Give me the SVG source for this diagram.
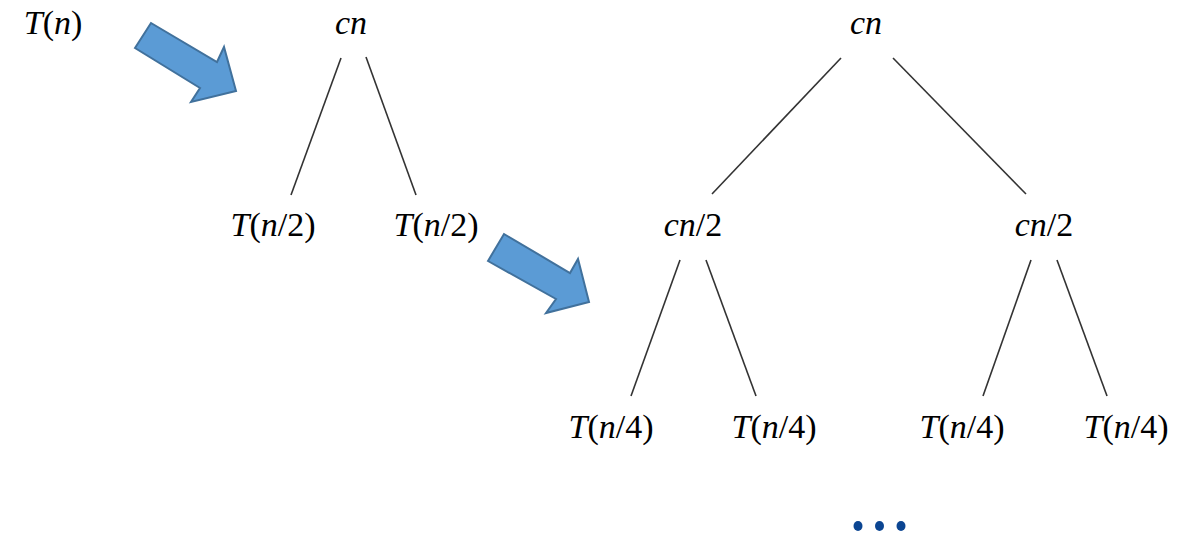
<svg xmlns="http://www.w3.org/2000/svg" width="1185" height="537" viewBox="0 0 1185 537">
<style>
.t{font-size:34px;fill:#000;text-anchor:middle}
.i{font-style:italic}
.e{stroke:#333;stroke-width:1.6;fill:none}
.a{fill:#5B9BD5;stroke:#41719C;stroke-width:2;stroke-linejoin:miter}
.d{fill:#0B4592}
</style>
<rect width="1185" height="537" fill="#fff"/>
<g id="connectors">
<line class="e" x1="341" y1="58" x2="291" y2="195"/>
<line class="e" x1="366" y1="57" x2="416" y2="195"/>
<line class="e" x1="841" y1="58" x2="712" y2="194"/>
<line class="e" x1="893" y1="58" x2="1026" y2="194"/>
<line class="e" x1="680" y1="260" x2="631" y2="396"/>
<line class="e" x1="706" y1="260" x2="756" y2="396"/>
<line class="e" x1="1031" y1="260" x2="983" y2="396"/>
<line class="e" x1="1057" y1="260" x2="1107" y2="396"/>
</g>
<g id="arrow1"><polygon class="a" points="135,48 151,23 217,62 224,47 236,91 191,102 200,88"/></g>
<g id="arrow2"><polygon class="a" points="488,261 504,234 570,273 578,259 589,302 546,313 556,299"/></g>
<g id="labels" font-family="Liberation Serif, serif">
<g id="Tn"><text class="t" x="53" y="34"><tspan class="i">T</tspan>(<tspan class="i">n</tspan>)</text></g>
<g id="cn1"><text class="t i" x="351" y="34">cn</text></g>
<g id="Tn2a"><text class="t" x="273" y="236"><tspan class="i">T</tspan>(<tspan class="i">n</tspan>/2)</text></g>
<g id="Tn2b"><text class="t" x="436" y="236"><tspan class="i">T</tspan>(<tspan class="i">n</tspan>/2)</text></g>
<g id="cn2"><text class="t i" x="866" y="34">cn</text></g>
<g id="cn2a"><text class="t" x="693" y="236"><tspan class="i">cn</tspan>/2</text></g>
<g id="cn2b"><text class="t" x="1044" y="236"><tspan class="i">cn</tspan>/2</text></g>
<g id="Tn4a"><text class="t" x="611" y="438"><tspan class="i">T</tspan>(<tspan class="i">n</tspan>/4)</text></g>
<g id="Tn4b"><text class="t" x="774" y="438"><tspan class="i">T</tspan>(<tspan class="i">n</tspan>/4)</text></g>
<g id="Tn4c"><text class="t" x="962" y="438"><tspan class="i">T</tspan>(<tspan class="i">n</tspan>/4)</text></g>
<g id="Tn4d"><text class="t" x="1126" y="438"><tspan class="i">T</tspan>(<tspan class="i">n</tspan>/4)</text></g>
</g>
<g id="dots">
<ellipse class="d" cx="858" cy="526" rx="4.5" ry="5"/>
<ellipse class="d" cx="879.5" cy="526" rx="4.5" ry="5"/>
<ellipse class="d" cx="901" cy="526" rx="4.5" ry="5"/>
</g>
</svg>
